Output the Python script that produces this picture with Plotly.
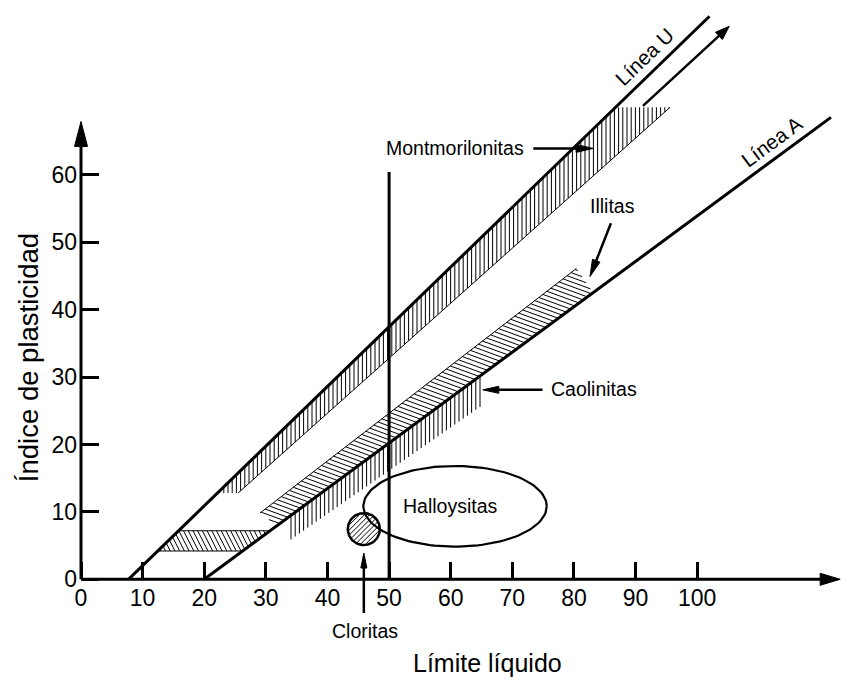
import numpy as np
import plotly.graph_objects as go

# Canvas and axis scaling (pixels per unit of liquid limit / plasticity index)
W, H = 841, 677
ORIGIN_X, ORIGIN_Y = 81, 579.3      # pixel position of (0, 0)
PX_X = 6.162
PX_Y = 6.743
X_RANGE = [-ORIGIN_X / PX_X, (W - ORIGIN_X) / PX_X]
Y_RANGE = [-(H - ORIGIN_Y) / PX_Y, ORIGIN_Y / PX_Y]

FONT = "Liberation Sans, Arial, sans-serif"

# ---- data -----------------------------------------------------------------
x_ticks = [0, 10, 20, 30, 40, 50, 60, 70, 80, 90, 100]
y_ticks = [0, 10, 20, 30, 40, 50, 60]

x_axis_end = 123.2
y_axis_end = 67.9

u_line_ll = [7.7, 102.0]
u_line_pi = [0.0, 83.5]
a_line_ll = [20.0, 121.7]
a_line_pi = [0.0, 68.5]
ll50_ll = [50.0, 50.0]
ll50_pi = [0.0, 60.4]

montmorillonite_ll = [22.15, 25.5, 95.6, 86.75]
montmorillonite_pi = [12.8, 12.8, 70.0, 70.0]

illite_ll = [29.05, 31.8, 83.1, 80.4]
illite_pi = [9.83, 7.97, 42.5, 46.1]

kaolinite_ll = [33.9, 33.9, 64.8, 64.8]
kaolinite_pi = [5.8, 9.43, 30.2, 25.6]

clml_ll = [12.4, 26.2, 30.7, 15.8]
clml_pi = [4.2, 4.2, 7.2, 7.2]

chlorite_center = (45.9, 7.45)
chlorite_radius = (2.6, 2.37)

halloysite_center = (60.7, 10.83)
halloysite_radius = (14.88, 5.98)

# label arrows: (tail_ll, tail_pi, tip_ll, tip_pi)
arrow_trend = (91.2, 70.2, 105.2, 82.0)
arrow_montmorillonite = (73.4, 63.9, 83.1, 63.9)
arrow_illite = (86.0, 52.8, 82.6, 44.9)
arrow_kaolinite = (74.9, 28.1, 65.2, 28.1)
arrow_chlorite = (45.9, -5.0, 45.9, 3.9)

labels = [
    ("Montmorilonitas", 60.7, 64.0),
    ("Illitas", 86.3, 55.4),
    ("Caolinitas", 83.3, 28.2),
    ("Halloysitas", 59.9, 10.8),
    ("Cloritas", 46.1, -7.7),
]
line_labels = [
    ("Línea U", 91.4, 77.6, -44),
    ("Línea A", 112.1, 64.9, -36.4),
]

# ---- helpers ----------------------------------------------------------------
def ellipse(center, radius, n=120):
    t = np.linspace(0, 2 * np.pi, n)
    return center[0] + radius[0] * np.cos(t), center[1] + radius[1] * np.sin(t)


def hatch(ll, pi, angle, spacing):
    """Parallel hatch lines (angle in degrees on screen, spacing in px) clipped to a convex polygon."""
    P = np.column_stack([np.asarray(ll, float) * PX_X, np.asarray(pi, float) * PX_Y])
    th = np.radians(angle)
    d = np.array([np.cos(th), np.sin(th)])
    nrm = np.array([-np.sin(th), np.cos(th)])
    proj = P @ nrm
    xs, ys = [], []
    k0 = int(np.ceil(proj.min() / spacing))
    k1 = int(np.floor(proj.max() / spacing))
    for k in range(k0, k1 + 1):
        c = k * spacing
        pts = []
        for i in range(len(P)):
            a, b = P[i], P[(i + 1) % len(P)]
            pa, pb = a @ nrm - c, b @ nrm - c
            if pa == pb:
                continue
            if (pa <= 0 <= pb) or (pb <= 0 <= pa):
                t = pa / (pa - pb)
                pts.append(a + t * (b - a))
        if len(pts) >= 2:
            pts.sort(key=lambda p: p @ d)
            p0, p1 = pts[0], pts[-1]
            xs += [p0[0] / PX_X, p1[0] / PX_X, None]
            ys += [p0[1] / PX_Y, p1[1] / PX_Y, None]
    return xs, ys


def arrow_traces(spec, head_len, head_w, width=2.5):
    x0, y0, x1, y1 = spec
    v = np.array([(x1 - x0) * PX_X, (y1 - y0) * PX_Y])
    u = v / np.linalg.norm(v)
    nv = np.array([-u[1], u[0]])
    tip = np.array([x1 * PX_X, y1 * PX_Y])
    base = tip - u * head_len
    left = base + nv * head_w / 2
    right = base - nv * head_w / 2
    line = go.Scatter(x=[x0, base[0] / PX_X], y=[y0, base[1] / PX_Y], mode="lines",
                      line=dict(color="black", width=width), hoverinfo="skip")
    head = go.Scatter(x=[tip[0] / PX_X, left[0] / PX_X, right[0] / PX_X, tip[0] / PX_X],
                      y=[tip[1] / PX_Y, left[1] / PX_Y, right[1] / PX_Y, tip[1] / PX_Y],
                      mode="lines", fill="toself", fillcolor="black",
                      line=dict(color="black", width=1), hoverinfo="skip")
    return [line, head]


def lines(x, y, width):
    return go.Scatter(x=x, y=y, mode="lines", line=dict(color="black", width=width),
                      hoverinfo="skip")


fig = go.Figure()

# hatched zones
hx, hy = hatch(montmorillonite_ll, montmorillonite_pi, 90, 4.2)
fig.add_trace(lines(hx, hy, 1))
hx, hy = hatch(kaolinite_ll, kaolinite_pi, 90, 4.2)
fig.add_trace(lines(hx, hy, 1))
hx, hy = hatch(illite_ll, illite_pi, -20, 4.3)
fig.add_trace(lines(hx, hy, 1))
hx, hy = hatch(clml_ll, clml_pi, -63, 4.2)
fig.add_trace(lines(hx, hy, 1))
cx, cy = ellipse(chlorite_center, chlorite_radius, 90)
hx, hy = hatch(cx, cy, 45, 3.6)
fig.add_trace(lines(hx, hy, 1))

# zone outlines
fig.add_trace(lines([montmorillonite_ll[1], montmorillonite_ll[2]],
                    [montmorillonite_pi[1], montmorillonite_pi[2]], 1))
fig.add_trace(lines([illite_ll[0], illite_ll[3]], [illite_pi[0], illite_pi[3]], 1))
fig.add_trace(lines(clml_ll + [clml_ll[0]], clml_pi + [clml_pi[0]], 1.2))
fig.add_trace(lines(list(cx), list(cy), 2.5))
ex, ey = ellipse(halloysite_center, halloysite_radius)
fig.add_trace(lines(list(ex), list(ey), 2.2))

# U line, A line and LL = 50
fig.add_trace(lines(u_line_ll, u_line_pi, 3))
fig.add_trace(lines(a_line_ll, a_line_pi, 3))
fig.add_trace(lines(ll50_ll, ll50_pi, 3))

# axes with arrowheads
for tr in arrow_traces((0, 0, x_axis_end, 0), 20, 12, 3):
    fig.add_trace(tr)
for tr in arrow_traces((0, 0, 0, y_axis_end), 25, 13, 3):
    fig.add_trace(tr)

# label arrows
for spec, hl, hw in [(arrow_trend, 14, 10), (arrow_montmorillonite, 17, 8),
                     (arrow_illite, 17, 8), (arrow_kaolinite, 16, 7),
                     (arrow_chlorite, 15, 6)]:
    for tr in arrow_traces(spec, hl, hw):
        fig.add_trace(tr)

for text, x, y in labels:
    fig.add_annotation(x=x, y=y, text=text, showarrow=False,
                       font=dict(family=FONT, size=19.5, color="black"))
for text, x, y, ang in line_labels:
    fig.add_annotation(x=x, y=y, text=text, showarrow=False, textangle=ang,
                       font=dict(family=FONT, size=20.5, color="black"))

fig.add_annotation(x=65.9, y=-12.4, text="Límite líquido", showarrow=False,
                   font=dict(family=FONT, size=25, color="black"))
fig.add_annotation(x=-8.6, y=32.8, text="Índice de plasticidad", showarrow=False,
                   textangle=-90, font=dict(family=FONT, size=27.5, color="black"))

axis_style = dict(ticks="inside", ticklen=17, tickwidth=3, tickcolor="black",
                  showgrid=False, zeroline=False, showline=False, automargin=False,
                  anchor="free", fixedrange=True,
                  tickfont=dict(family=FONT, size=23, color="black"))

fig.update_layout(
    width=W, height=H,
    margin=dict(l=0, r=0, t=0, b=0, pad=0),
    paper_bgcolor="white", plot_bgcolor="white",
    showlegend=False,
    xaxis=dict(range=X_RANGE, tickvals=x_ticks, position=(H - ORIGIN_Y) / H,
               ticklabelstandoff=3, **axis_style),
    yaxis=dict(range=Y_RANGE, tickvals=y_ticks, position=ORIGIN_X / W,
               ticklabelstandoff=4, **axis_style),
)

fig.write_html("out.html")
